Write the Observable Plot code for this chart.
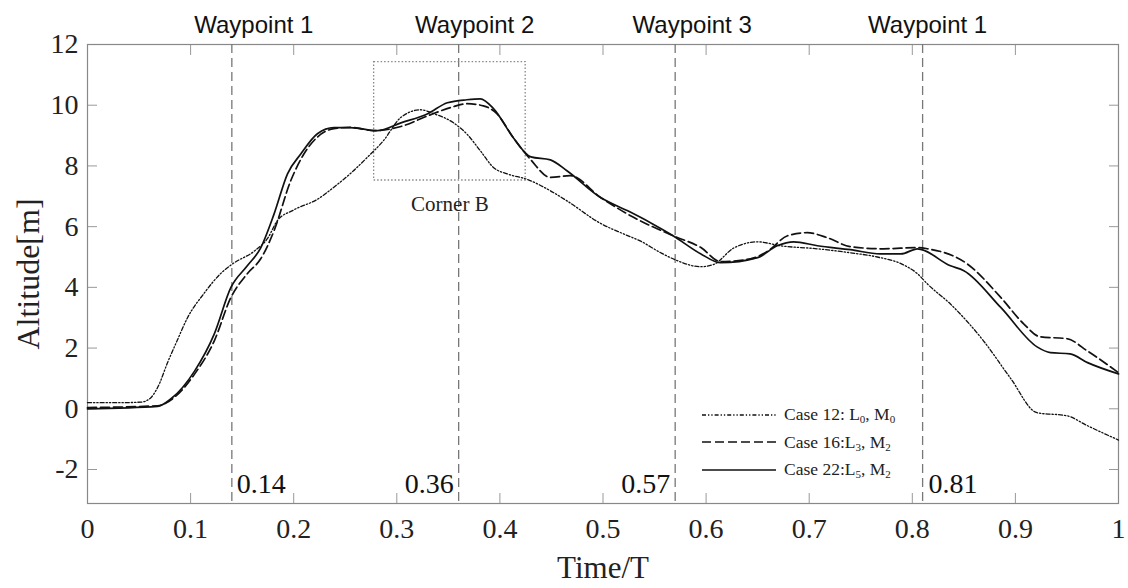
<!DOCTYPE html>
<html><head><meta charset="utf-8">
<script src="https://cdn.jsdelivr.net/npm/d3@7"></script>
<script src="https://cdn.jsdelivr.net/npm/@observablehq/plot@0.6"></script>
<style>
body{margin:0;background:#fff;}
#wrap{position:relative;width:1128px;height:588px;overflow:hidden;}
#legend{position:absolute;left:702px;top:401px;font-family:"Liberation Serif",serif;font-size:17.5px;color:#222;}
#legend .row{display:flex;align-items:center;height:27.5px;}
#legend svg{margin-right:8px;}
#legend sub{font-size:11px;vertical-align:-3px;}
</style></head><body><div id="wrap"></div>
<script>
// ---- data ----
const case12T = [0,0.03,0.052,0.061,0.068,0.078,0.087,0.097,0.113,0.129,0.141,0.162,0.175,0.184,0.2,0.223,0.239,0.255,0.271,0.287,0.304,0.323,0.336,0.355,0.368,0.381,0.394,0.407,0.427,0.449,0.465,0.498,0.52,0.536,0.556,0.572,0.595,0.607,0.627,0.65,0.672,0.708,0.74,0.766,0.789,0.805,0.815,0.837,0.869,0.895,0.921,0.95,0.97,1.0];
const case12Y = [0.2,0.2,0.22,0.35,0.7,1.55,2.25,3.0,3.8,4.45,4.78,5.2,5.63,6.19,6.55,6.9,7.3,7.75,8.27,8.83,9.6,9.85,9.72,9.42,9.05,8.5,7.94,7.74,7.55,7.18,6.85,6.1,5.76,5.53,5.14,4.88,4.68,4.75,5.3,5.5,5.37,5.27,5.14,5.0,4.78,4.45,4.1,3.45,2.24,1.02,-0.13,-0.23,-0.56,-1.03];
const case16T = [0,0.068,0.084,0.104,0.123,0.139,0.155,0.168,0.181,0.197,0.21,0.223,0.239,0.255,0.278,0.304,0.33,0.352,0.368,0.384,0.397,0.413,0.43,0.449,0.468,0.498,0.53,0.568,0.595,0.614,0.643,0.66,0.679,0.698,0.718,0.74,0.772,0.805,0.815,0.853,0.886,0.908,0.924,0.95,0.97,1.0];
const case16Y = [0.04,0.1,0.37,1.15,2.24,3.66,4.45,4.94,5.87,7.5,8.4,8.95,9.23,9.27,9.16,9.3,9.65,9.92,10.05,9.98,9.72,8.93,8.2,7.62,7.68,6.95,6.3,5.7,5.31,4.85,4.94,5.2,5.7,5.8,5.63,5.34,5.27,5.31,5.27,4.78,3.66,2.8,2.37,2.31,1.9,1.19];
const case22T = [0,0.068,0.081,0.104,0.123,0.139,0.155,0.168,0.181,0.194,0.207,0.223,0.239,0.255,0.281,0.304,0.33,0.349,0.368,0.381,0.394,0.413,0.43,0.449,0.465,0.498,0.524,0.546,0.568,0.595,0.614,0.65,0.669,0.685,0.708,0.74,0.769,0.789,0.805,0.837,0.85,0.886,0.921,0.934,0.953,0.97,1.0];
const case22Y = [0.0,0.08,0.33,1.25,2.47,3.99,4.71,5.3,6.42,7.74,8.4,9.06,9.26,9.26,9.16,9.42,9.72,10.08,10.18,10.21,9.88,8.93,8.3,8.2,7.84,6.95,6.52,6.13,5.7,5.1,4.81,4.98,5.37,5.5,5.37,5.24,5.1,5.1,5.27,4.71,4.55,3.33,2.04,1.85,1.81,1.52,1.15];

const xTicks = [0,0.1,0.2,0.3,0.4,0.5,0.6,0.7,0.8,0.9,1];
const yTicks = [-2,0,2,4,6,8,10,12];
const waypointT = [0.14,0.36,0.57,0.81];
const waypointNames = ["Waypoint 1","Waypoint 2","Waypoint 3","Waypoint 1"];
const waypointValueLabels = ["0.14","0.36","0.57","0.81"];
const cornerBox = [{x1:0.278,x2:0.425,y1:7.52,y2:11.42}];
const cornerLabel = "Corner B";
const xTitle = "Time/T";
const yTitle = "Altitude[m]";
const legendLabels = ["Case 12: L<sub>0</sub>, M<sub>0</sub>","Case 16:L<sub>3</sub>, M<sub>2</sub>","Case 22:L<sub>5</sub>, M<sub>2</sub>"];

// ---- styles ----
const dash12 = "4,2,1.3,2,1.3,2";
const dash16 = "9,4";
const lineStyles = [{dash: dash12, w: 1.3},{dash: dash16, w: 1.7},{dash: null, w: 1.7}];

const toRows = (T, Y) => T.map((t,i) => ({t, y: Y[i]}));
const s12 = toRows(case12T, case12Y), s16 = toRows(case16T, case16Y), s22 = toRows(case22T, case22Y);

const labelDx = [22, 16, 17, 5];
const valueAnchor = ["start","end","end","start"];
const valueDx = [5,-5,-5,6];

const serif = "'Liberation Serif', serif";
const sans = "'Liberation Sans', sans-serif";

const plot = Plot.plot({
  width: 1128, height: 588,
  marginLeft: 87, marginRight: 10, marginTop: 44, marginBottom: 85,
  x: {domain: [0,1]},
  y: {domain: [-3.12, 12]},
  style: {fontFamily: serif, background: "white", color: "#222", overflow: "visible"},
  marks: [
    // ticks (inward)
    Plot.axisX({ticks: xTicks, tickSize: -10, tickFormat: () => "", label: null, stroke: "#999"}),
    Plot.axisX({anchor: "top", ticks: xTicks, tickSize: -10, tickFormat: () => "", label: null, stroke: "#999"}),
    Plot.axisY({ticks: yTicks, tickSize: -10, tickFormat: () => "", label: null, stroke: "#999"}),
    Plot.axisY({anchor: "right", ticks: yTicks, tickSize: -10, tickFormat: () => "", label: null, stroke: "#999"}),
    // tick labels
    Plot.axisX({ticks: xTicks, tickSize: 0, tickPadding: 15, fontSize: 28, fontFamily: serif, tickFormat: d => String(d), label: null, fill: "#222"}),
    Plot.axisY({ticks: yTicks, tickSize: 0, tickPadding: 9, fontSize: 28, fontFamily: serif, tickFormat: d => String(d), label: null, fill: "#222"}),
    Plot.frame({stroke: "#888", strokeWidth: 1.2}),
    // waypoint lines
    Plot.ruleX(waypointT, {x: d => d, stroke: "#777", strokeWidth: 1.3, strokeDasharray: "9,5"}),
    // Corner B box
    Plot.rect(cornerBox, {x1: "x1", x2: "x2", y1: "y1", y2: "y2", fill: "none", stroke: "#888", strokeWidth: 1.3, strokeDasharray: "1.5,2"}),
    Plot.text(cornerBox, {x: d => (d.x1 + d.x2) / 2, y: "y1", dy: 24, text: () => cornerLabel, fontSize: 21, fontFamily: serif, fill: "#222"}),
    // series
    Plot.line(s12, {x: "t", y: "y", stroke: "#111", strokeWidth: lineStyles[0].w, strokeDasharray: lineStyles[0].dash, curve: "monotone-x"}),
    Plot.line(s16, {x: "t", y: "y", stroke: "#111", strokeWidth: lineStyles[1].w, strokeDasharray: lineStyles[1].dash, curve: "monotone-x"}),
    Plot.line(s22, {x: "t", y: "y", stroke: "#111", strokeWidth: lineStyles[2].w, curve: "monotone-x"}),
    // waypoint names (above frame)
    ...waypointT.map((w, i) => Plot.text([w], {x: d => d, frameAnchor: "top", lineAnchor: "middle", dy: -19, dx: labelDx[i], text: () => waypointNames[i], fontFamily: sans, fontSize: 24, fill: "#111"})),
    // waypoint values (bottom inside)
    ...waypointT.map((w, i) => Plot.text([w], {x: d => d, frameAnchor: "bottom", lineAnchor: "middle", dy: -19, dx: valueDx[i], textAnchor: valueAnchor[i], text: () => waypointValueLabels[i], fontFamily: serif, fontSize: 28, fill: "#111"})),
    // titles
    Plot.text([xTitle], {frameAnchor: "bottom", lineAnchor: "middle", dy: 65, text: d => d, fontFamily: serif, fontSize: 31, fill: "#222"}),
    Plot.text([yTitle], {frameAnchor: "left", textAnchor: "middle", lineAnchor: "middle", dx: -59, rotate: -90, text: d => d, fontFamily: serif, fontSize: 32, fill: "#222"})
  ]
});

// force serif digits for tick labels (axis groups may carry their own font settings)
d3.select(plot).selectAll('g[aria-label$="tick label"]').attr("font-family", serif).style("font-family", serif).attr("font-variant", null);
d3.select(plot).selectAll('g[aria-label$="tick label"] text').style("font-family", serif);

const wrap = document.getElementById("wrap");
wrap.appendChild(plot);

// legend overlay
const legend = document.createElement("div");
legend.id = "legend";
legendLabels.forEach((lab, i) => {
  const row = document.createElement("div");
  row.className = "row";
  const st = lineStyles[i];
  row.innerHTML = `<svg width="74" height="10"><line x1="0" y1="5" x2="74" y2="5" stroke="#111" stroke-width="${i===0?1.6:1.7}" ${st.dash ? `stroke-dasharray="${st.dash}"` : ""}/></svg><span>${lab}</span>`;
  legend.appendChild(row);
});
wrap.appendChild(legend);
</script>
</body></html>
